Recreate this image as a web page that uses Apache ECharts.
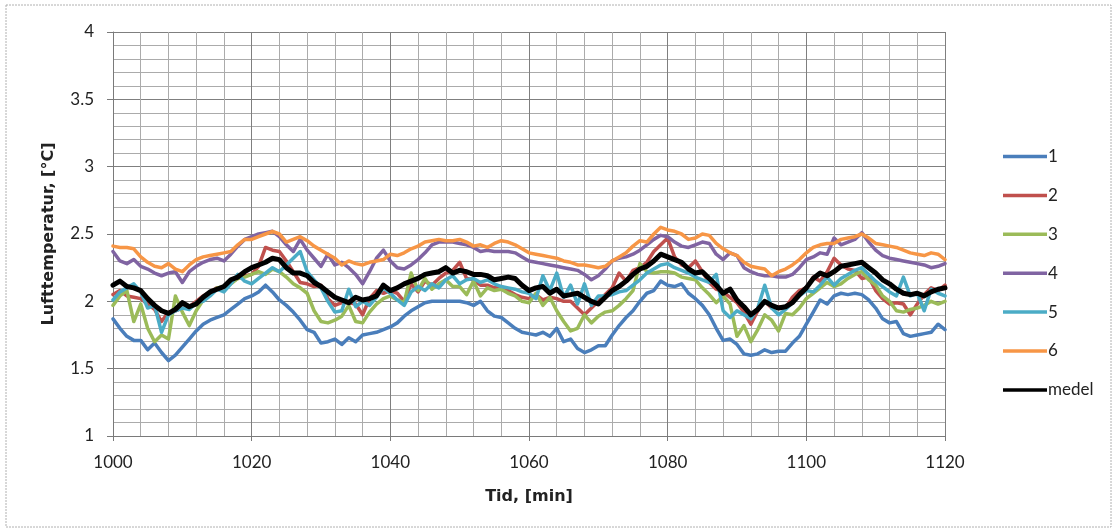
<!DOCTYPE html>
<html>
<head>
<meta charset="utf-8">
<script src="https://cdn.jsdelivr.net/npm/echarts@6/dist/echarts.min.js"></script>
<style>
html,body{margin:0;padding:0;background:#fff;}
#chart{width:1115px;height:530px;}
</style>
</head>
<body>
<div id="chart"></div>
<script>
// Minutes (x values)
const minutes = [
1000,1001,1002,1003,1004,1005,1006,1007,1008,1009,1010,1011,1012,1013,1014,1015,1016,1017,1018,1019,1020,
1021,1022,1023,1024,1025,1026,1027,1028,1029,1030,1031,1032,1033,1034,1035,1036,1037,1038,1039,1040,
1041,1042,1043,1044,1045,1046,1047,1048,1049,1050,1051,1052,1053,1054,1055,1056,1057,1058,1059,1060,
1061,1062,1063,1064,1065,1066,1067,1068,1069,1070,1071,1072,1073,1074,1075,1076,1077,1078,1079,1080,
1081,1082,1083,1084,1085,1086,1087,1088,1089,1090,1091,1092,1093,1094,1095,1096,1097,1098,1099,1100,
1101,1102,1103,1104,1105,1106,1107,1108,1109,1110,1111,1112,1113,1114,1115,1116,1117,1118,1119,1120];

const s1 = [
1.87,1.80,1.74,1.71,1.71,1.64,1.69,1.62,1.56,1.60,1.66,1.72,1.78,1.83,1.86,1.88,1.90,1.94,1.98,2.02,2.04,
2.07,2.12,2.07,2.01,1.97,1.92,1.86,1.79,1.77,1.69,1.70,1.72,1.68,1.73,1.70,1.75,1.76,1.77,1.79,1.81,
1.84,1.89,1.93,1.96,1.99,2.00,2.00,2.00,2.00,2.00,1.99,1.97,2.00,1.93,1.89,1.88,1.84,1.80,1.77,1.76,
1.75,1.77,1.74,1.80,1.70,1.72,1.65,1.62,1.64,1.67,1.67,1.75,1.82,1.88,1.93,2.00,2.06,2.08,2.15,2.12,
2.11,2.13,2.06,2.02,1.97,1.90,1.80,1.71,1.72,1.68,1.61,1.60,1.61,1.64,1.62,1.63,1.63,1.69,1.74,1.83,
1.92,2.01,1.98,2.04,2.06,2.05,2.06,2.05,2.01,1.95,1.87,1.84,1.85,1.76,1.74,1.75,1.76,1.77,1.83,1.79];

const s2 = [
2.05,2.08,2.04,2.03,2.02,1.98,1.94,1.85,1.92,1.93,1.95,1.96,2.00,2.04,2.07,2.10,2.10,2.14,2.17,2.19,2.20,
2.26,2.40,2.38,2.37,2.30,2.22,2.14,2.13,2.11,2.12,2.02,1.97,1.99,1.99,1.98,1.90,2.02,2.08,2.06,2.08,
2.06,2.00,2.13,2.07,2.15,2.12,2.17,2.21,2.23,2.29,2.17,2.16,2.12,2.12,2.10,2.11,2.08,2.05,2.03,2.02,
2.05,2.01,2.03,2.02,2.00,2.00,1.95,1.90,1.95,2.00,2.05,2.10,2.21,2.15,2.23,2.25,2.29,2.37,2.42,2.47,
2.33,2.27,2.25,2.30,2.22,2.14,2.09,2.07,2.03,1.99,1.92,1.83,1.93,2.00,1.95,1.96,1.95,2.03,2.08,2.10,
2.18,2.15,2.22,2.32,2.27,2.24,2.23,2.17,2.18,2.08,2.02,1.98,1.99,1.98,1.90,1.98,2.05,2.10,2.08,2.12];

const s3 = [
1.97,2.04,2.08,1.85,1.98,1.80,1.70,1.75,1.72,2.04,1.92,1.82,1.93,2.01,2.05,2.10,2.11,2.13,2.17,2.18,2.20,
2.22,2.20,2.24,2.22,2.18,2.13,2.10,2.06,1.93,1.85,1.84,1.86,1.89,1.97,1.85,1.84,1.92,1.98,2.02,2.04,
2.01,1.99,2.21,2.08,2.17,2.09,2.13,2.16,2.11,2.11,2.05,2.15,2.04,2.10,2.08,2.09,2.06,2.04,2.00,1.99,
2.06,1.97,2.03,1.93,1.85,1.78,1.80,1.90,1.84,1.89,1.92,1.93,1.97,2.02,2.08,2.28,2.22,2.21,2.22,2.22,
2.21,2.18,2.17,2.16,2.10,2.05,1.99,2.04,1.98,1.74,1.82,1.70,1.79,1.90,1.86,1.78,1.91,1.90,1.95,2.02,
2.06,2.10,2.14,2.11,2.13,2.17,2.20,2.22,2.16,2.12,2.04,2.00,1.93,1.92,1.94,1.95,1.97,2.00,1.98,2.00];

const s4 = [
2.37,2.30,2.28,2.31,2.26,2.24,2.21,2.19,2.21,2.22,2.14,2.22,2.26,2.29,2.31,2.32,2.30,2.35,2.41,2.46,2.48,
2.50,2.51,2.52,2.48,2.42,2.37,2.46,2.38,2.32,2.26,2.35,2.27,2.29,2.25,2.20,2.13,2.22,2.32,2.38,2.30,
2.25,2.24,2.27,2.31,2.36,2.42,2.44,2.44,2.44,2.43,2.42,2.40,2.37,2.38,2.37,2.37,2.37,2.36,2.33,2.30,
2.29,2.28,2.27,2.26,2.25,2.24,2.23,2.20,2.16,2.19,2.24,2.30,2.32,2.33,2.35,2.38,2.42,2.46,2.49,2.48,
2.44,2.41,2.40,2.42,2.44,2.43,2.35,2.31,2.36,2.34,2.25,2.22,2.20,2.19,2.19,2.18,2.18,2.20,2.25,2.31,
2.33,2.36,2.35,2.47,2.42,2.44,2.46,2.51,2.44,2.38,2.34,2.32,2.31,2.30,2.29,2.28,2.27,2.25,2.26,2.28];

const s5 = [
2.01,2.07,2.10,2.13,2.07,1.95,1.97,1.77,1.90,1.93,1.95,1.94,1.99,2.00,2.04,2.09,2.07,2.13,2.20,2.15,2.13,
2.17,2.21,2.25,2.22,2.27,2.32,2.37,2.22,2.16,2.10,2.00,1.92,1.93,2.09,1.96,2.00,1.97,2.03,2.10,2.06,
2.01,1.97,2.07,2.11,2.08,2.13,2.10,2.16,2.19,2.13,2.16,2.17,2.14,2.16,2.13,2.11,2.10,2.09,2.07,2.06,
2.02,2.19,2.08,2.21,2.03,2.12,1.98,2.13,1.97,2.04,2.04,2.05,2.07,2.08,2.12,2.16,2.21,2.24,2.27,2.28,
2.25,2.23,2.21,2.18,2.16,2.14,2.20,1.93,1.88,1.93,1.90,1.87,1.95,2.12,1.95,1.90,1.94,1.99,2.04,2.08,
2.07,2.12,2.18,2.12,2.17,2.20,2.23,2.25,2.20,2.15,2.11,2.07,2.04,2.18,2.04,2.06,1.93,2.09,2.06,2.04];

const s6 = [
2.41,2.40,2.40,2.39,2.33,2.29,2.26,2.25,2.28,2.24,2.22,2.27,2.31,2.33,2.34,2.35,2.36,2.37,2.42,2.46,2.46,
2.48,2.50,2.52,2.50,2.44,2.46,2.48,2.45,2.41,2.38,2.35,2.32,2.27,2.30,2.28,2.27,2.29,2.30,2.31,2.35,
2.34,2.36,2.39,2.41,2.44,2.45,2.46,2.45,2.45,2.46,2.44,2.41,2.42,2.40,2.43,2.45,2.44,2.42,2.39,2.36,
2.35,2.34,2.33,2.32,2.30,2.29,2.27,2.27,2.26,2.25,2.26,2.30,2.33,2.36,2.41,2.45,2.44,2.50,2.55,2.53,
2.52,2.50,2.46,2.47,2.50,2.49,2.43,2.39,2.36,2.34,2.29,2.26,2.25,2.24,2.19,2.22,2.24,2.27,2.31,2.36,
2.40,2.42,2.43,2.43,2.46,2.47,2.48,2.50,2.47,2.43,2.42,2.41,2.40,2.38,2.36,2.35,2.34,2.36,2.35,2.31];

const medel = [
2.12,2.15,2.11,2.10,2.08,2.02,1.97,1.93,1.91,1.94,1.99,1.96,1.98,2.03,2.07,2.09,2.11,2.16,2.18,2.22,2.25,
2.27,2.29,2.32,2.31,2.25,2.21,2.21,2.19,2.14,2.11,2.07,2.03,2.01,1.99,2.03,2.01,2.02,2.04,2.12,2.08,
2.10,2.13,2.15,2.17,2.20,2.21,2.22,2.25,2.21,2.23,2.22,2.20,2.20,2.19,2.16,2.17,2.18,2.17,2.12,2.08,
2.10,2.11,2.06,2.09,2.04,2.05,2.06,2.03,2.00,1.98,2.03,2.08,2.11,2.15,2.20,2.24,2.26,2.30,2.35,2.33,
2.31,2.29,2.24,2.21,2.22,2.17,2.12,2.06,2.09,2.01,1.96,1.90,1.94,2.00,1.97,1.95,1.96,1.99,2.05,2.10,
2.17,2.21,2.19,2.22,2.26,2.27,2.28,2.29,2.25,2.21,2.16,2.13,2.09,2.06,2.05,2.06,2.04,2.07,2.09,2.10];

const seriesNames = ['1','2','3','4','5','6','medel'];
const seriesData = [s1, s2, s3, s4, s5, s6, medel];
const seriesColors = ['#4a7ebb','#c0504d','#9bbb59','#8064a2','#4bacc6','#f79646','#000000'];

const FONT = 'Lato, "Open Sans", sans-serif';
const TITLE_FONT = '"DejaVu Sans", sans-serif';
const chart = echarts.init(document.getElementById('chart'), null, {renderer: 'canvas'});

const series = seriesNames.map((name, i) => ({
  name: name,
  type: 'line',
  data: minutes.map((m, k) => [m, seriesData[i][k]]),
  symbol: 'none',
  smooth: false,
  z: i === 6 ? 10 : 3 + i,
  lineStyle: {color: seriesColors[i], width: i === 6 ? 5 : 3.5, join: 'round', cap: 'round'},
  itemStyle: {color: seriesColors[i]},
  emphasis: {disabled: true},
  animation: false
}));

chart.setOption({
  backgroundColor: '#ffffff',
  animation: false,
  textStyle: {fontFamily: FONT},
  graphic: [{
    type: 'rect',
    shape: {x: 6, y: 5, width: 1105, height: 522},
    style: {fill: 'none', stroke: '#b0b0b0', lineWidth: 1, lineDash: [2, 1]},
    silent: true, z: -10
  }],
  grid: {left: 113, top: 32, width: 832, height: 404, containLabel: false},
  legend: {
    orient: 'vertical',
    left: 998,
    top: 143,
    itemWidth: 44,
    itemHeight: 16,
    itemGap: 21.9,
    icon: 'path://M0,6.5 L44,6.5 L44,10 L0,10 Z',
    textStyle: {fontFamily: FONT, fontSize: 17, color: '#222', padding: [0,0,0,-4]},
    data: seriesNames
  },
  xAxis: {
    type: 'value',
    min: 1000, max: 1120, interval: 20,
    name: 'Tid, [min]',
    nameLocation: 'middle',
    nameGap: 53,
    nameTextStyle: {fontFamily: TITLE_FONT, fontSize: 16, fontWeight: 'bold', color: '#222'},
    axisLine: {onZero: false, lineStyle: {color: '#7a7a7a', width: 1}},
    axisTick: {show: true, inside: false, length: 5, lineStyle: {color: '#7a7a7a'}},
    axisLabel: {fontFamily: FONT, fontSize: 17, color: '#222', margin: 18, formatter: v => String(v)},
    splitLine: {show: true, lineStyle: {color: '#7f7f7f', width: 1}},
    minorTick: {show: false, splitNumber: 5},
    minorSplitLine: {show: true, lineStyle: {color: '#ababab', width: 1}}
  },
  yAxis: {
    type: 'value',
    min: 1, max: 4, interval: 0.5,
    name: 'Lufttemperatur, [°C]',
    nameLocation: 'middle',
    nameGap: 56,
    nameRotate: 90,
    nameTextStyle: {fontFamily: TITLE_FONT, fontSize: 16, fontWeight: 'bold', color: '#222'},
    axisLine: {show: true, lineStyle: {color: '#7a7a7a', width: 1}},
    axisTick: {show: true, inside: false, length: 6, lineStyle: {color: '#7a7a7a'}},
    axisLabel: {fontFamily: FONT, fontSize: 17, color: '#222', margin: 19},
    splitLine: {show: true, lineStyle: {color: '#7f7f7f', width: 1}},
    minorTick: {show: false, splitNumber: 5},
    minorSplitLine: {show: true, lineStyle: {color: '#ababab', width: 1}}
  },
  series: series
});
</script>
</body>
</html>
